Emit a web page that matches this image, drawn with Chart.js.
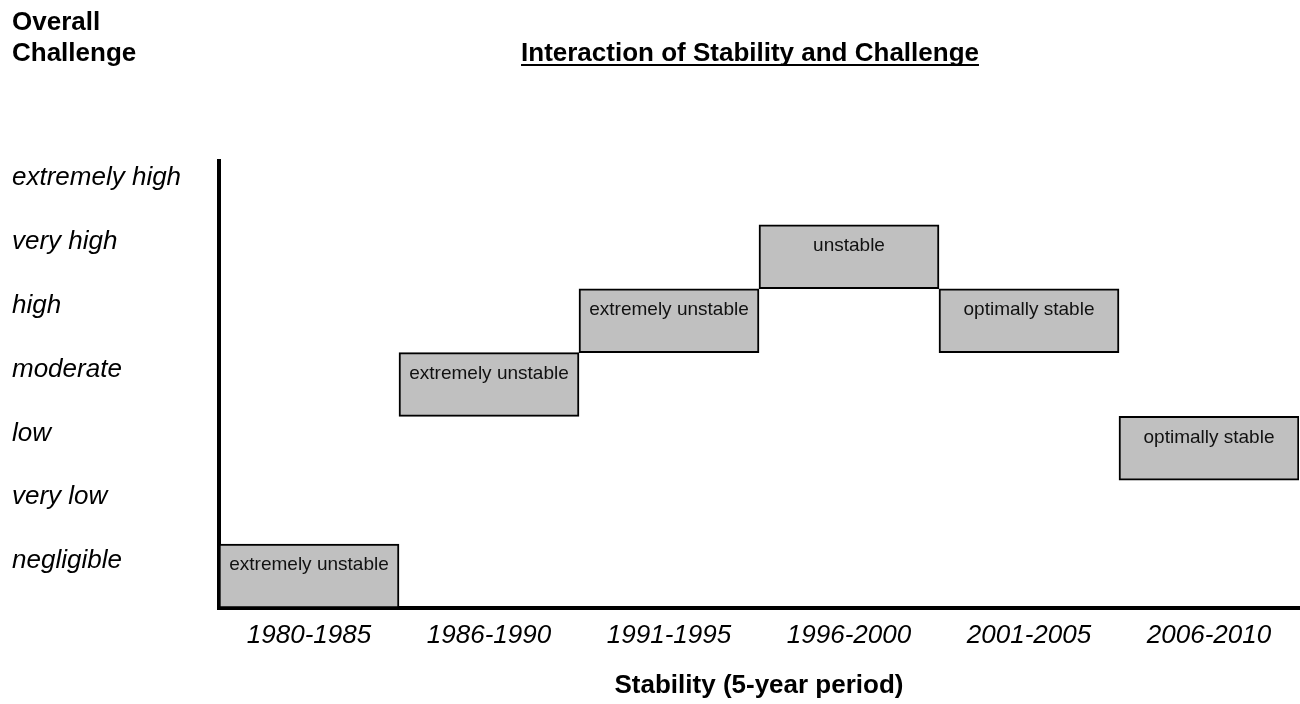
<!DOCTYPE html>
<html>
<head>
<meta charset="utf-8">
<title>Interaction of Stability and Challenge</title>
<script src="https://cdn.jsdelivr.net/npm/chart.js@4.4.1/dist/chart.umd.min.js"></script>
<style>
  body { margin: 0; background: #fff; }
  #wrap { width: 1300px; height: 704px; }
</style>
</head>
<body>
<div id="wrap"><canvas id="stabilityChart" width="1300" height="704"></canvas></div>
<script>
// Five-year periods along the bottom
const periods = ['1980-1985', '1986-1990', '1991-1995', '1996-2000', '2001-2005', '2006-2010'];

// Challenge levels, bottom to top
const challengeLevels = ['negligible', 'very low', 'low', 'moderate', 'high', 'very high', 'extremely high'];

// Challenge level reached in each period (index into challengeLevels)
const challengeIndex = [0, 3, 4, 5, 4, 2];

// Stability text written inside each box
const stabilityText = ['extremely unstable', 'extremely unstable', 'extremely unstable', 'unstable', 'optimally stable', 'optimally stable'];

const fontFamily = '"Liberation Sans", Arial, Helvetica, sans-serif';

// Each box covers one whole level band
const boxes = challengeIndex.map(v => [v - 0.5, v + 0.5]);

// Writes the stability text near the top of each box
const boxLabels = {
  id: 'boxLabels',
  afterDatasetsDraw(chart) {
    const ctx = chart.ctx;
    const meta = chart.getDatasetMeta(0);
    ctx.save();
    ctx.font = '19px ' + fontFamily;
    ctx.fillStyle = '#111';
    ctx.textAlign = 'center';
    ctx.textBaseline = 'middle';
    meta.data.forEach((bar, i) => {
      const top = Math.min(bar.y, bar.base);
      ctx.fillText(stabilityText[i], bar.x, top + 21);
    });
    ctx.restore();
  }
};

// Header texts: the y-axis caption at top left and the underlined title
const headerText = {
  id: 'headerText',
  afterDraw(chart) {
    const ctx = chart.ctx;
    ctx.save();
    ctx.fillStyle = '#000';
    ctx.font = 'bold 26px ' + fontFamily;
    ctx.textAlign = 'left';
    ctx.textBaseline = 'alphabetic';
    ctx.fillText('Overall', 12, 30);
    ctx.fillText('Challenge', 12, 61);

    const title = 'Interaction of Stability and Challenge';
    const cx = 750;
    ctx.textAlign = 'center';
    ctx.fillText(title, cx, 61);
    const w = ctx.measureText(title).width;
    ctx.fillRect(cx - w / 2, 64, w, 2);
    ctx.restore();
  }
};

new Chart(document.getElementById('stabilityChart'), {
  type: 'bar',
  data: {
    labels: periods,
    datasets: [{
      data: boxes,
      backgroundColor: '#c0c0c0',
      borderColor: '#000',
      borderWidth: 2,
      borderSkipped: false,
      barPercentage: 1,
      categoryPercentage: 1
    }]
  },
  options: {
    responsive: false,
    animation: false,
    layout: { padding: { left: 12, right: 1, top: 161, bottom: 0 } },
    plugins: {
      legend: { display: false },
      tooltip: { enabled: false }
    },
    scales: {
      x: {
        grid: { display: false },
        border: { display: true, color: '#000', width: 4 },
        ticks: {
          color: '#000',
          font: { family: fontFamily, size: 26, style: 'italic' },
          padding: 4,
          maxRotation: 0,
          autoSkip: false
        },
        title: {
          display: true,
          text: 'Stability (5-year period)',
          color: '#000',
          font: { family: fontFamily, size: 26, weight: 'bold' },
          padding: { top: 0, bottom: 3 }
        },
        afterFit(scale) { scale.height = 96; }
      },
      y: {
        min: -0.5,
        max: 6.5,
        grid: { display: false },
        border: { display: true, color: '#000', width: 4 },
        afterBuildTicks(scale) {
          scale.ticks = challengeLevels.map((_, i) => ({ value: i }));
        },
        ticks: {
          color: '#000',
          font: { family: fontFamily, size: 26, style: 'italic' },
          crossAlign: 'far',
          labelOffset: -15,
          callback: value => challengeLevels[value]
        },
        afterFit(scale) { scale.width = 207; }
      }
    }
  },
  plugins: [boxLabels, headerText]
});
</script>
</body>
</html>
